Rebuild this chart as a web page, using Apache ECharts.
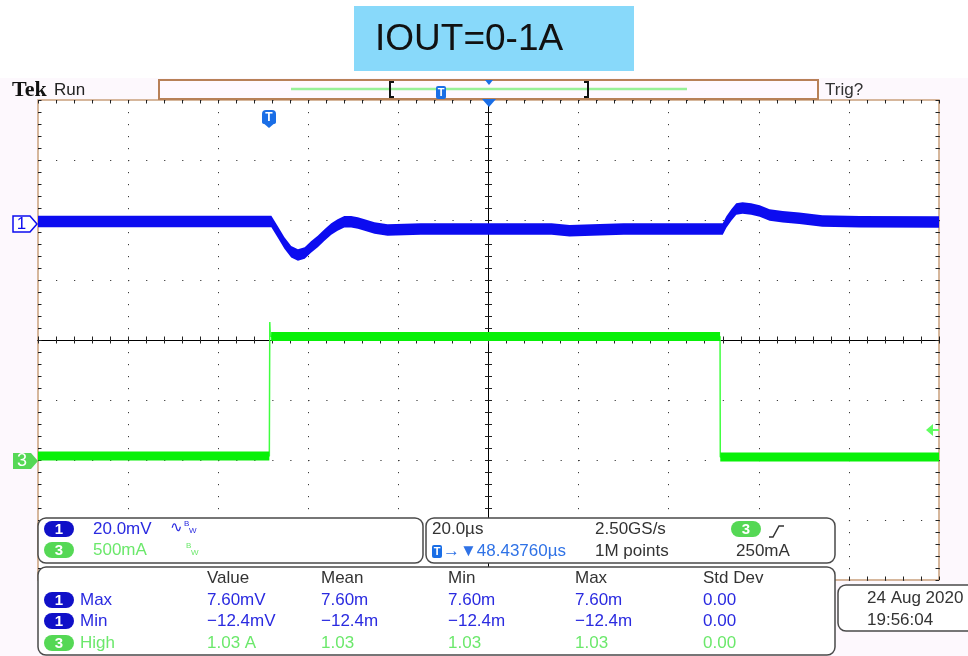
<!DOCTYPE html>
<html><head><meta charset="utf-8">
<script src="https://cdn.jsdelivr.net/npm/echarts@6/dist/echarts.min.js"></script>
<style>html,body{margin:0;padding:0;background:#fdf8fd}#c{width:968px;height:656px}</style>
</head><body><div id="c"></div>
<script>
// ---------------- data ----------------
const titleText = 'IOUT=0-1A';
// time in µs, 20 µs/div, 10 divisions
const timeMin = -100, timeMax = 100, timeStep = 20;
// Channel 1 (output voltage ripple, mV)
const ch1Time = [-100, -75, -50, -48.2, -46.8, -45.3, -43.8, -42.3, -40.8, -39.4, -37.9, -36.4, -34.9, -33.5, -32.0, -30.5, -29.0, -27.5, -25.3, -22.4, -15, 0, 14, 18, 23, 30, 52.0, 52.8, 53.9, 55.0, 56.4, 58.3, 60.2, 62.4, 65.3, 69.0, 74.1, 82.4, 100];
const ch1Mv   = [0.5, 0.5, 0.5, 0.5, -2.9, -6.7, -9.6, -10.7, -10.0, -8.0, -6.2, -4.0, -2.0, -0.7, 0.4, 0.4, 0.0, -0.7, -1.7, -2.3, -2.0, -2.0, -2.0, -2.6, -2.3, -2.0, -2.0, 0.3, 2.7, 4.7, 5.0, 4.7, 4.0, 2.7, 2.1, 1.6, 0.7, 0.4, 0.3];
// Channel 3 (load current, A)
const ch3Time = [-100, -48.65, -48.55, -48.45, -48.25, 51.4, 51.45, 100];
const ch3Amps = [0.033, 0.033, 1.15, 1.05, 1.03, 1.03, 0.025, 0.025];
const ch3Flat = [[0, 1], [4, 5], [6, 7]];
// channel axis ranges (screen offsets of the scope)
const ch1Range = [-119, 41];
const ch3Range = [-1, 3];
// readout texts
const ch1Scale = '20.0mV', ch3Scale = '500mA';
const timeScale = '20.0µs', sampleRate = '2.50GS/s', recordLen = '1M points', trigLevel = '250mA', trigOffset = '→▼48.43760µs';
const measHeaders = ['Value', 'Mean', 'Min', 'Max', 'Std Dev'];
const measChannels = ['1', '1', '3'];
const measNames = ['Max', 'Min', 'High'];
const measValue = ['7.60mV', '−12.4mV', '1.03 A'];
const measMean = ['7.60m', '−12.4m', '1.03'];
const measMin = ['7.60m', '−12.4m', '1.03'];
const measMax = ['7.60m', '−12.4m', '1.03'];
const measStd = ['0.00', '0.00', '0.00'];
const dateText = '24 Aug 2020', clockText = '19:56:04';

// ---------------- styling ----------------
const F = '"Liberation Sans", "DejaVu Sans", sans-serif';
const CH1 = '#0c0cf0', CH1T = '#2a2ae0', CH1P = '#1010c8';
const CH3 = '#08f008', CH3T = '#6be86b', CH3P = '#55d855';
const TBLUE = '#1a6ee6';
const CH1_HALF_PX = 5.75;
const G = [];
function txt(x, y, text, fill, size, o) {
  o = o || {};
  const font = (o.weight ? o.weight + ' ' : '') + size + 'px ' + (o.family || F);
  G.push({type: 'text', z: 110, style: {x, y, text, fill, font, textAlign: o.align || 'left', align: o.align || 'left', textVerticalAlign: 'middle', verticalAlign: 'middle'}});
}
function rect(x, y, w, h, fill, stroke, lw, r, z) {
  G.push({type: 'rect', z: z == null ? 100 : z, shape: {x, y, width: w, height: h, r: r || 0}, style: {fill: fill, stroke: stroke || null, lineWidth: lw || 0}});
}
function poly(points, fill, stroke, lw, z) {
  G.push({type: 'polygon', z: z == null ? 105 : z, shape: {points}, style: {fill: fill, stroke: stroke || null, lineWidth: lw || 0}});
}
function pline(points, stroke, lw, z) {
  G.push({type: 'polyline', z: z == null ? 105 : z, shape: {points}, style: {fill: null, stroke, lineWidth: lw}});
}
function pill(x, y, color, label) {
  rect(x, y, 30, 16, color, null, 0, 8, 105);
  txt(x + 15, y + 8.5, label, '#fff', 15, {align: 'center', weight: 'bold'});
}
function tBox(x, y, w, h, size) {
  rect(x, y, w, h, TBLUE, null, 0, 2, 106);
  txt(x + w / 2, y + h / 2 + 0.5, 'T', '#fff', size, {align: 'center', weight: 'bold'});
}

// header
rect(0, 0, 968, 78, '#ffffff', null, 0, 0, 1);
rect(354, 6, 280, 65, '#88d9fa', null, 0, 0, 2);
txt(375, 40, titleText, '#111', 37);
// Tek Run row
txt(12, 90, 'Tek', '#111', 22, {weight: 'bold', family: '"Liberation Serif", "DejaVu Serif", serif'});
txt(54, 90, 'Run', '#222', 17);
txt(825, 90, 'Trig?', '#333', 17);
// record bar
rect(159, 80, 659, 19, '#fff8ff', '#b88058', 2, 0, 100);
pline([[291, 89], [687, 89]], '#98f098', 2.5, 101);
pline([[394, 82], [390, 82], [390, 97], [394, 97]], '#111', 2, 102);
pline([[584, 82], [588, 82], [588, 97], [584, 97]], '#111', 2, 102);
tBox(436, 86, 10, 13, 11);
poly([[485, 80], [493, 80], [489, 85]], TBLUE, null, 0, 103);
// trigger position marker on graticule top
poly([[482, 99], [496, 99], [489, 107]], TBLUE, null, 0, 103);
// trigger T marker
G.push({type: 'rect', z: 104, shape: {x: 262, y: 110, width: 14, height: 14, r: [4, 4, 2, 2]}, style: {fill: TBLUE}});
poly([[262, 122], [276, 122], [269, 128]], TBLUE, null, 0, 104);
txt(269, 117.5, 'T', '#fff', 12, {align: 'center', weight: 'bold'});
// channel ground markers
poly([[13, 216], [30, 216], [37, 224], [30, 232], [13, 232]], '#ffffff', CH1, 1.5);
txt(21.5, 224.5, '1', CH1, 17, {align: 'center'});
poly([[13, 453], [31, 453], [38, 461], [31, 469], [13, 469]], CH3P, null, 0);
txt(22, 461.5, '3', '#fff', 18, {align: 'center'});
// trigger level arrow
poly([[926, 430], [933, 424], [933, 436]], '#60ff60', null, 0);
pline([[933, 430], [939, 430]], '#60ff60', 2);

// bottom panels
rect(38, 518, 385, 45, '#fff', '#4a4a4a', 1.5, 8, 100);
rect(426, 518, 409, 45, '#fff', '#4a4a4a', 1.5, 8, 100);
rect(38, 567, 797, 88, '#fff', '#4a4a4a', 1.5, 8, 100);
rect(838, 585, 140, 46, '#fff', '#4a4a4a', 1.5, 8, 100);
// panel A: vertical settings
pill(44, 521, CH1P, '1');
txt(93, 529.5, ch1Scale, CH1T, 17);
txt(170, 528, '∿', CH1T, 15, {family: '"DejaVu Sans", sans-serif'});
txt(184, 524, 'B', CH1T, 8);
txt(189, 531, 'W', CH1T, 8);
pill(44, 542, CH3P, '3');
txt(93, 550.5, ch3Scale, CH3T, 17);
txt(186, 546, 'B', CH3T, 8);
txt(191, 553, 'W', CH3T, 8);
// panel B: horizontal & trigger
txt(432, 529.5, timeScale, '#333', 17);
txt(595, 529.5, sampleRate, '#333', 17);
pill(731, 521, CH3P, '3');
pline([[769, 537], [773, 537], [779, 526], [784, 526]], '#333', 1.5);
tBox(432, 545, 10, 13, 11);
txt(443, 551.5, trigOffset, '#2f72e6', 17);
txt(595, 551.5, recordLen, '#333', 17);
txt(736, 551.5, trigLevel, '#333', 17);
// panel C: measurements
const colX = [207, 321, 448, 575, 703];
const rowY = [600, 621, 643];
measHeaders.forEach((h, i) => txt(colX[i], 578.5, h, '#333', 17));
measNames.forEach((n, r) => {
  const isCh3 = measChannels[r] === '3';
  const c = isCh3 ? CH3T : CH1T;
  pill(44, rowY[r] - 8, isCh3 ? CH3P : CH1P, measChannels[r]);
  txt(80, rowY[r] + 0.5, n, c, 17);
  [measValue, measMean, measMin, measMax, measStd].forEach((arr, k) => txt(colX[k], rowY[r] + 0.5, arr[r], c, 17));
});
// panel D: date
txt(867, 598.5, dateText, '#333', 17);
txt(867, 620.5, clockText, '#333', 17);

// ---------------- axes (graticule) ----------------
const tickStyle = {color: '#222', width: 1};
function gx(pos, onZero, inside, split) {
  return {type: 'value', gridIndex: 0, min: timeMin, max: timeMax, interval: timeStep, position: pos,
    axisLine: {show: onZero, onZero: onZero, onZeroAxisIndex: 0, lineStyle: {color: '#000', width: 1}},
    axisTick: {show: true, inside: inside, length: 3.5, lineStyle: tickStyle},
    minorTick: {show: true, splitNumber: 5, length: 3.5, lineStyle: tickStyle},
    axisLabel: {show: false}, splitLine: split ? {show: true, lineStyle: {color: '#3a3a3a', width: 1, type: [1.2, 10.8]}} : {show: false}};
}
function gy(pos, onZero, inside, split) {
  return {type: 'value', gridIndex: 0, min: -4, max: 4, interval: 1, position: pos,
    axisLine: {show: onZero, onZero: onZero, onZeroAxisIndex: 0, lineStyle: {color: '#000', width: 1}},
    axisTick: {show: true, inside: inside, length: 3.5, lineStyle: tickStyle},
    minorTick: {show: true, splitNumber: 5, length: 3.5, lineStyle: tickStyle},
    axisLabel: {show: false}, splitLine: split ? {show: true, lineStyle: {color: '#3a3a3a', width: 1, type: [1.2, 16.82]}} : {show: false}};
}

function ch1Band(params, api) {
  if (params.dataIndex !== 0) return null;
  const top = [], bot = [];
  for (let i = 0; i < ch1Time.length; i++) {
    const p = api.coord([ch1Time[i], ch1Mv[i]]);
    top.push([p[0], p[1] - CH1_HALF_PX]);
    bot.unshift([p[0], p[1] + CH1_HALF_PX]);
  }
  return {type: 'polygon', shape: {points: top.concat(bot)}, style: {fill: CH1}};
}

const series = [
  {type: 'custom', name: 'CH1', xAxisIndex: 0, yAxisIndex: 4, z: 5, silent: true,
   data: ch1Time.map((t, i) => [t, ch1Mv[i]]), renderItem: ch1Band}
];
series.push({type: 'line', name: 'CH3', xAxisIndex: 0, yAxisIndex: 5, z: 3, silent: true, symbol: 'none',
  data: ch3Time.map((t, i) => [t, ch3Amps[i]]), lineStyle: {color: '#40ff40', width: 1.5}});
ch3Flat.forEach(([a, b]) => series.push({type: 'line', xAxisIndex: 0, yAxisIndex: 5, z: 4, silent: true, symbol: 'none',
  data: [[ch3Time[a], ch3Amps[a]], [ch3Time[b], ch3Amps[b]]], lineStyle: {color: CH3, width: 9, cap: 'butt'}}));

const chart = echarts.init(document.getElementById('c'), null, {renderer: 'canvas'});
chart.setOption({
  animation: false,
  backgroundColor: '#fdf8fd',
  grid: {left: 38, top: 100, width: 901, height: 480, show: true, backgroundColor: '#ffffff', borderColor: '#c9a07c', borderWidth: 1.5, containLabel: false, outerBoundsMode: 'none'},
  xAxis: [gx('bottom', true, false, true), gx('top', true, false, false), gx('top', false, true, false), gx('bottom', false, true, false)],
  yAxis: [gy('left', true, false, true), gy('right', true, false, false), gy('left', false, true, false), gy('right', false, true, false),
    {type: 'value', gridIndex: 0, min: ch1Range[0], max: ch1Range[1], show: false},
    {type: 'value', gridIndex: 0, min: ch3Range[0], max: ch3Range[1], show: false}],
  series: series,
  graphic: {elements: G}
});
</script></body></html>
